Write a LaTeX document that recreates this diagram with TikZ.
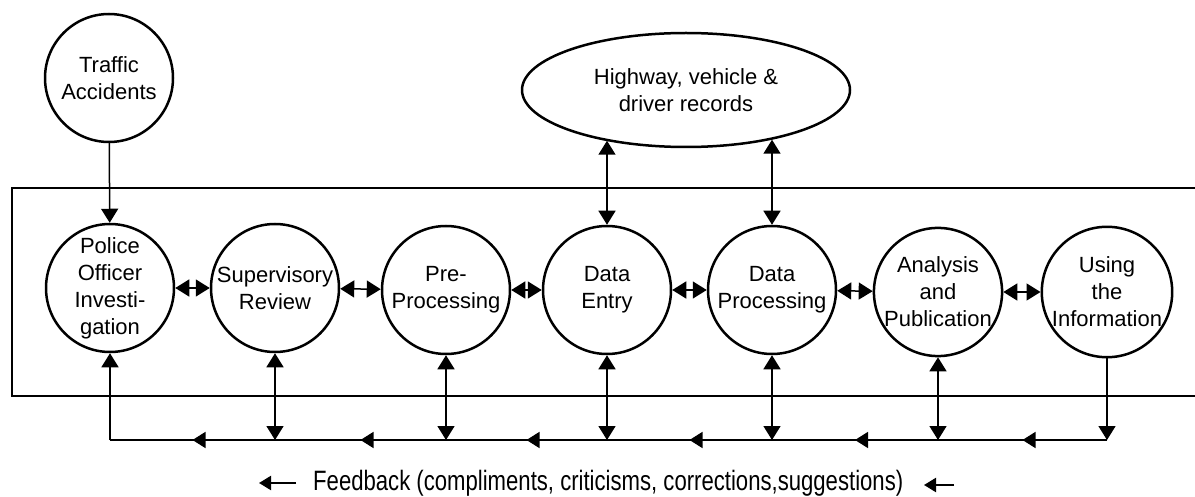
\documentclass[tikz,border=0pt]{standalone}
\usepackage{fontspec}
\setmainfont{Liberation Sans}
\usetikzlibrary{arrows.meta,shapes.geometric,decorations.markings}
\begin{document}
\begin{tikzpicture}[x=1pt,y=-1pt,
  >={Triangle[length=14pt,width=17pt]},
  nodefont/.style={font=\fontsize{22}{27}\selectfont},
  proc/.style={circle,draw,line width=2.5pt,minimum size=128pt,inner sep=0pt,
    align=center,nodefont},
  store/.style={ellipse,draw,line width=2.5pt,minimum width=328pt,
    minimum height=114pt,inner sep=0pt,align=center,nodefont},
  link/.style={line width=1.5pt},
  frame/.style={line width=2pt},
  midarrow/.style={postaction={decorate},decoration={markings,
    mark=at position 0.5 with {\arrow{Triangle[length=13pt,width=16pt]}}}},
  textarrow/.style={line width=2.2pt,-{Triangle[length=12pt,width=14pt]}}]
\useasboundingbox (0,0) rectangle (1195,497);

% sources of data
\node[proc]  (acc) at (109,78) {Traffic\\Accidents};
\node[store] (rec) at (686,90) {Highway, vehicle \&\\driver records};

% enclosing system boundary (open on the right)
\draw[frame] (1197,188) -- (12,188) -- (12,396) -- (1197,396);

% the processing chain
\node[proc] (pol) at (110,288) {Police\\Officer\\Investi-\\gation};
\node[proc] (sup) at (275,288) {Supervisory\\Review};
\node[proc] (pre) at (446,290) {Pre-\\Processing};
\node[proc] (ent) at (607,290) {Data\\Entry};
\node[proc] (dp)  at (772,290) {Data\\Processing};
\node[proc] (ana) at (938,292) {Analysis\\and\\Publication};
\node[proc] (use) at (1107,292) {Using\\the\\Information};

% inputs
\draw[link,->] (acc) -- (pol);
\draw[link,<->] (ent.north |- rec.212) -- (ent);
\draw[link,<->] (dp.north |- rec.330) -- (dp);

% links along the chain
\draw[link,<->] (pol) -- (sup);
\draw[link,<->] (sup) -- (pre);
\draw[link,<->] (pre) -- (ent);
\draw[link,<->] (ent) -- (dp);
\draw[link,<->] (dp) -- (ana);
\draw[link,<->] (ana) -- (use);

% feedback bus
\coordinate (f1) at (110,440);
\coordinate (f2) at (275,440);
\coordinate (f3) at (446,440);
\coordinate (f4) at (607,440);
\coordinate (f5) at (772,440);
\coordinate (f6) at (938,440);
\coordinate (f7) at (1107,440);

\draw[link,->] (use) -- (f7);
\draw[link,<->] (ana) -- (f6);
\draw[link,<->] (dp) -- (f5);
\draw[link,<->] (ent) -- (f4);
\draw[link,<->] (pre) -- (f3);
\draw[link,<->] (sup) -- (f2);

\draw[link,midarrow] (f7) -- (f6);
\draw[link,midarrow] (f6) -- (f5);
\draw[link,midarrow] (f5) -- (f4);
\draw[link,midarrow] (f4) -- (f3);
\draw[link,midarrow] (f3) -- (f2);
\draw[link,midarrow] (f2) -- (f1);
\draw[link,->] (f1) -- (pol);

% feedback caption
\node[anchor=base west,inner sep=0pt,font=\fontsize{28}{32}\selectfont] (cap) at (313,490)
  {\scalebox{0.79}[1]{Feedback (compliments, criticisms, corrections,suggestions)}};
\coordinate (la1) at (296,483);
\coordinate (la2) at (259,483);
\coordinate (ra1) at (954,485);
\coordinate (ra2) at (924,485);
\draw[textarrow] (la1) -- (la2);
\draw[textarrow] (ra1) -- (ra2);
\end{tikzpicture}
\end{document}
